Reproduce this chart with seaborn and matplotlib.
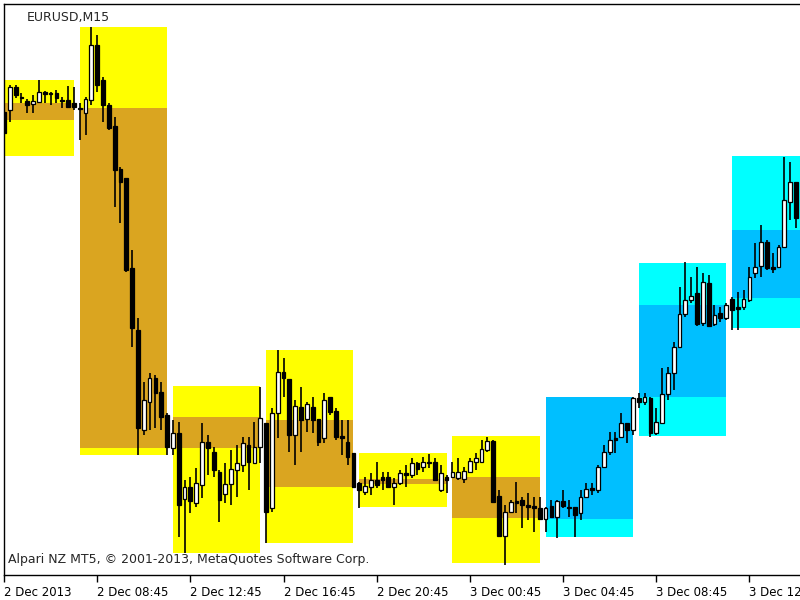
import numpy as np
import pandas as pd
import matplotlib
matplotlib.use('Agg')
import matplotlib.pyplot as plt
import seaborn as sns

# EURUSD M15 candles, first visible bar 2 Dec 2013 04:45
opens = [1.35918, 1.35920, 1.35943, 1.35933, 1.35929, 1.35926, 1.35928, 1.35938, 1.35937, 1.35937,
         1.35930, 1.35930, 1.35927, 1.35922, 1.35917, 1.35930, 1.35985, 1.35950, 1.35925, 1.35904,
         1.35861, 1.35852, 1.35762, 1.35700, 1.35600, 1.35628, 1.35652, 1.35638, 1.35615, 1.35582,
         1.35597, 1.35531, 1.35543, 1.35527, 1.35545, 1.35588, 1.35578, 1.35558, 1.35536, 1.35546,
         1.35560, 1.35565, 1.35585, 1.35567, 1.35583, 1.35607, 1.35522, 1.35617, 1.35658, 1.35651,
         1.35595, 1.35623, 1.35611, 1.35623, 1.35611, 1.35592, 1.35633, 1.35619, 1.35594, 1.35588,
         1.35577, 1.35547, 1.35538, 1.35543, 1.35550, 1.35553, 1.35553, 1.35543, 1.35547, 1.35557,
         1.35555, 1.35567, 1.35563, 1.35568, 1.35568, 1.35540, 1.35553, 1.35553, 1.35552, 1.35551,
         1.35558, 1.35568, 1.35568, 1.35580, 1.35589, 1.35534, 1.35494, 1.35518, 1.35529, 1.35530,
         1.35525, 1.35524, 1.35522, 1.35511, 1.35524, 1.35513, 1.35529, 1.35523, 1.35523, 1.35517,
         1.35533, 1.35542, 1.35540, 1.35563, 1.35578, 1.35592, 1.35593, 1.35607, 1.35600, 1.35632,
         1.35628, 1.35632, 1.35597, 1.35607, 1.35636, 1.35657, 1.35683, 1.35716, 1.35730, 1.35737,
         1.35707, 1.35747, 1.35706, 1.35717, 1.35712, 1.35731, 1.35723, 1.35723, 1.35730, 1.35757,
         1.35764, 1.35788, 1.35763, 1.35763, 1.35783, 1.35828, 1.35848]
highs = [1.35920, 1.35945, 1.35945, 1.35937, 1.35931, 1.35935, 1.35950, 1.35939, 1.35938, 1.35940,
         1.35933, 1.35944, 1.35943, 1.35927, 1.35933, 1.36003, 1.35995, 1.35953, 1.35927, 1.35913,
         1.35863, 1.35852, 1.35780, 1.35712, 1.35648, 1.35657, 1.35655, 1.35648, 1.35617, 1.35610,
         1.35608, 1.35550, 1.35553, 1.35562, 1.35607, 1.35595, 1.35583, 1.35560, 1.35567, 1.35580,
         1.35585, 1.35593, 1.35593, 1.35608, 1.35643, 1.35607, 1.35622, 1.35680, 1.35672, 1.35651,
         1.35630, 1.35643, 1.35628, 1.35633, 1.35611, 1.35637, 1.35633, 1.35622, 1.35610, 1.35610,
         1.35577, 1.35548, 1.35553, 1.35557, 1.35568, 1.35558, 1.35558, 1.35552, 1.35560, 1.35565,
         1.35572, 1.35568, 1.35573, 1.35576, 1.35572, 1.35565, 1.35555, 1.35568, 1.35572, 1.35563,
         1.35572, 1.35577, 1.35590, 1.35593, 1.35590, 1.35540, 1.35525, 1.35530, 1.35548, 1.35533,
         1.35537, 1.35533, 1.35533, 1.35523, 1.35530, 1.35530, 1.35540, 1.35530, 1.35523, 1.35540,
         1.35547, 1.35547, 1.35565, 1.35585, 1.35598, 1.35598, 1.35617, 1.35607, 1.35633, 1.35637,
         1.35637, 1.35633, 1.35622, 1.35662, 1.35663, 1.35688, 1.35743, 1.35768, 1.35753, 1.35763,
         1.35757, 1.35755, 1.35725, 1.35723, 1.35727, 1.35733, 1.35738, 1.35740, 1.35763, 1.35787,
         1.35805, 1.35790, 1.35777, 1.35785, 1.35873, 1.35868, 1.35848]
lows = [1.35895, 1.35908, 1.35932, 1.35927, 1.35917, 1.35917, 1.35927, 1.35927, 1.35925, 1.35927,
        1.35922, 1.35922, 1.35920, 1.35890, 1.35895, 1.35925, 1.35938, 1.35908, 1.35900, 1.35823,
        1.35807, 1.35758, 1.35683, 1.35575, 1.35595, 1.35600, 1.35602, 1.35600, 1.35575, 1.35575,
        1.35493, 1.35477, 1.35517, 1.35523, 1.35532, 1.35555, 1.35553, 1.35508, 1.35527, 1.35525,
        1.35533, 1.35558, 1.35540, 1.35567, 1.35567, 1.35487, 1.35518, 1.35592, 1.35633, 1.35578,
        1.35565, 1.35578, 1.35598, 1.35597, 1.35584, 1.35587, 1.35615, 1.35590, 1.35575, 1.35565,
        1.35542, 1.35522, 1.35535, 1.35535, 1.35542, 1.35540, 1.35542, 1.35525, 1.35545, 1.35543,
        1.35552, 1.35555, 1.35558, 1.35562, 1.35549, 1.35538, 1.35537, 1.35552, 1.35550, 1.35547,
        1.35557, 1.35560, 1.35567, 1.35578, 1.35528, 1.35493, 1.35465, 1.35517, 1.35517, 1.35502,
        1.35510, 1.35498, 1.35510, 1.35498, 1.35512, 1.35492, 1.35522, 1.35513, 1.35493, 1.35510,
        1.35532, 1.35535, 1.35537, 1.35562, 1.35575, 1.35577, 1.35592, 1.35587, 1.35595, 1.35622,
        1.35625, 1.35593, 1.35595, 1.35607, 1.35630, 1.35640, 1.35683, 1.35713, 1.35727, 1.35704,
        1.35704, 1.35703, 1.35704, 1.35708, 1.35710, 1.35700, 1.35700, 1.35720, 1.35728, 1.35752,
        1.35753, 1.35760, 1.35757, 1.35762, 1.35782, 1.35810, 1.35802]
closes = [1.35897, 1.35943, 1.35935, 1.35932, 1.35925, 1.35929, 1.35938, 1.35936, 1.35936, 1.35932,
          1.35929, 1.35923, 1.35923, 1.35921, 1.35931, 1.35985, 1.35945, 1.35925, 1.35902, 1.35860,
          1.35848, 1.35760, 1.35702, 1.35602, 1.35630, 1.35652, 1.35637, 1.35613, 1.35583, 1.35597,
          1.35525, 1.35543, 1.35529, 1.35547, 1.35588, 1.35582, 1.35560, 1.35530, 1.35546, 1.35561,
          1.35567, 1.35587, 1.35568, 1.35583, 1.35612, 1.35518, 1.35617, 1.35658, 1.35652, 1.35595,
          1.35624, 1.35610, 1.35626, 1.35610, 1.35588, 1.35630, 1.35618, 1.35593, 1.35592, 1.35573,
          1.35543, 1.35540, 1.35544, 1.35550, 1.35545, 1.35550, 1.35543, 1.35547, 1.35557, 1.35555,
          1.35567, 1.35561, 1.35568, 1.35567, 1.35550, 1.35557, 1.35550, 1.35558, 1.35558, 1.35559,
          1.35569, 1.35572, 1.35581, 1.35589, 1.35528, 1.35494, 1.35518, 1.35528, 1.35527, 1.35525,
          1.35523, 1.35522, 1.35511, 1.35522, 1.35513, 1.35529, 1.35524, 1.35522, 1.35515, 1.35533,
          1.35541, 1.35540, 1.35563, 1.35578, 1.35590, 1.35590, 1.35607, 1.35600, 1.35632, 1.35628,
          1.35633, 1.35597, 1.35608, 1.35636, 1.35657, 1.35683, 1.35716, 1.35730, 1.35734, 1.35706,
          1.35748, 1.35704, 1.35715, 1.35712, 1.35725, 1.35720, 1.35721, 1.35731, 1.35753, 1.35763,
          1.35788, 1.35762, 1.35761, 1.35783, 1.35830, 1.35848, 1.35812]

# 4-hour range boxes (one per 16 bars)
box_open = [1.35927, 1.35922, 1.35613, 1.35610, 1.35551, 1.35553, 1.35511, 1.35633, 1.35732]
box_high = [1.35950, 1.36003, 1.35644, 1.35680, 1.35577, 1.35594, 1.35633, 1.35767, 1.35874]
box_low = [1.35874, 1.35575, 1.35477, 1.35487, 1.35523, 1.35467, 1.35493, 1.35594, 1.35702]
box_close = [1.35910, 1.35582, 1.35582, 1.35543, 1.35546, 1.35512, 1.35633, 1.35725, 1.35800]

tick_labels = ['2 Dec 2013', '2 Dec 08:45', '2 Dec 12:45', '2 Dec 16:45', '2 Dec 20:45',
               '3 Dec 00:45', '3 Dec 04:45', '3 Dec 08:45', '3 Dec 12:45']

sns.set_style('white')
plt.rcParams['font.family'] = ['DejaVu Sans']

df = pd.DataFrame({'open': opens, 'high': highs, 'low': lows, 'close': closes})
df['bar'] = np.arange(len(df))
df['up'] = df['close'] >= df['open']

boxes = pd.DataFrame({'open': box_open, 'high': box_high, 'low': box_low, 'close': box_close})
boxes['start'] = np.arange(len(boxes)) * 16 - 3
boxes['up'] = boxes['close'] > boxes['open']

fig = plt.figure(figsize=(8, 6), dpi=100)
ax = fig.add_axes([4 / 800, 25 / 600, 796 / 800, 571 / 600])

# range boxes: outer = high/low, inner = open/close
ax.bar(boxes['start'] + 7.5, boxes['high'] - boxes['low'], bottom=boxes['low'], width=15,
       color=np.where(boxes['up'], '#00FFFF', '#FFFF00'), linewidth=0, zorder=1)
ax.bar(boxes['start'] + 7.5, (boxes['close'] - boxes['open']).abs(),
       bottom=boxes[['open', 'close']].min(axis=1), width=15,
       color=np.where(boxes['up'], '#00BFFF', '#DAA520'), linewidth=0, zorder=1.5)

# candles
ax.vlines(df['bar'], df['low'], df['high'], color='black', linewidth=1.2, zorder=2)
ax.bar(df['bar'], (df['close'] - df['open']).abs(), bottom=df[['open', 'close']].min(axis=1),
       width=0.65, color=np.where(df['up'], 'white', 'black'), edgecolor='black',
       linewidth=0.9, zorder=3)

ax.set_xlim(0.09, 136.69)
ax.set_ylim(1.35455, 1.36026)
ax.set_yticks([])
ax.set_xticks(np.arange(0, 16 * len(tick_labels), 16))
ax.set_xticklabels(tick_labels, ha='left', fontsize=8.5)
ax.tick_params(axis='x', bottom=True, direction='out', length=5, width=1, pad=3,
               colors='black')
for side in ['left', 'top', 'bottom']:
    ax.spines[side].set_color('black')
    ax.spines[side].set_linewidth(1)
ax.spines['right'].set_visible(False)

fig.text(27 / 800, 1 - 17 / 600, 'EURUSD,M15', fontsize=9, va='center', ha='left')
fig.text(8 / 800, 1 - 560 / 600, 'Alpari NZ MT5, \u00a9 2001-2013, MetaQuotes Software Corp.',
         fontsize=9, va='center', ha='left')

fig.savefig('out.png', dpi=100)
